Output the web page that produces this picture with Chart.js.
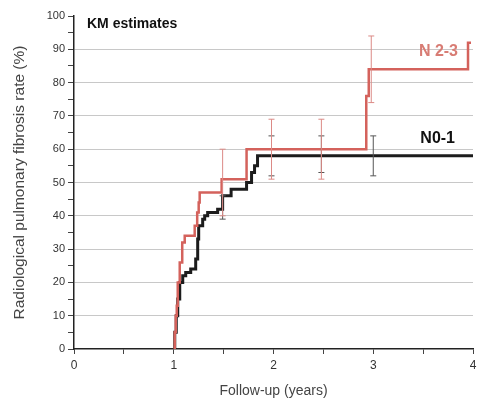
<!DOCTYPE html>
<html>
<head>
<meta charset="utf-8">
<script src="https://cdn.jsdelivr.net/npm/chart.js@4"></script>
<style>
  body { margin: 0; background: #fff; }
  canvas { display: block; }
</style>
</head>
<body>
<canvas id="km" width="478" height="409"></canvas>
<script>
// Kaplan-Meier steps: follow-up (years) and cumulative fibrosis rate (%)
const n23Years = [1.00, 1.01, 1.02, 1.03, 1.04, 1.06, 1.085, 1.11, 1.21, 1.235, 1.25, 1.26, 1.48, 1.73, 2.93, 2.955, 3.95, 3.98];
const n23Rate  = [0, 5, 10, 13, 20, 26, 32, 34, 37, 41, 44, 47, 51, 60, 76, 84, 92, 92];

const n01Years = [1.00, 1.01, 1.025, 1.04, 1.06, 1.09, 1.12, 1.17, 1.22, 1.24, 1.25, 1.29, 1.31, 1.34, 1.44, 1.49, 1.575, 1.73, 1.78, 1.81, 1.84, 4.0];
const n01Rate  = [0, 5, 10, 15, 20, 22, 23, 24, 27, 33, 37, 39, 40, 41, 42, 46, 48, 50, 53, 55, 58, 58];

// confidence interval bars
const n23CiYears = [1.49, 1.98, 2.48, 2.98];
const n23CiLow   = [40, 51, 51, 74];
const n23CiHigh  = [60, 69, 69, 94];

const n01CiYears = [1.49, 1.98, 2.48, 3.0];
const n01CiLow   = [39, 52, 53, 52];
const n01CiHigh  = [46, 64, 64, 64];

const RED = "#d4625c";
const BLACK = "#1c1c1c";
const FONT = "'Liberation Sans', Arial, sans-serif";

const toPoints = (xs, ys) => xs.map((x, i) => ({x: x, y: ys[i]}));

function ciBars(xs, lows, highs, color) {
  return xs.map((x, i) => ({
    data: [{x: x, y: lows[i]}, {x: x, y: highs[i]}],
    borderColor: color,
    borderWidth: 1,
    pointStyle: "line",
    pointRadius: 3,
    pointBorderColor: color,
    pointBorderWidth: 1,
    showLine: true
  }));
}

// free text inside the plot area
const annotations = {
  id: "annotations",
  afterDraw(chart) {
    const ctx = chart.ctx;
    const a = chart.chartArea;
    ctx.save();
    ctx.textBaseline = "middle";
    ctx.font = "bold 14px " + FONT;
    ctx.fillStyle = "#111";
    ctx.textAlign = "left";
    ctx.fillText("KM estimates", a.left + 13, a.top + 8);
    ctx.font = "bold 16px " + FONT;
    ctx.textAlign = "right";
    ctx.fillStyle = "#d87c74";
    ctx.fillText("N 2-3", a.right - 15, 52);
    ctx.fillStyle = "#111";
    ctx.fillText("N0-1", a.right - 18, 139);
    ctx.restore();
  }
};

new Chart(document.getElementById("km"), {
  type: "scatter",
  data: {
    datasets: [
      ...ciBars(n23CiYears, n23CiLow, n23CiHigh, "#dc8a86"),
      ...ciBars(n01CiYears, n01CiLow, n01CiHigh, "#555"),
      {
        label: "N 2-3",
        data: toPoints(n23Years, n23Rate),
        borderColor: RED,
        borderWidth: 2.5,
        pointRadius: 0,
        showLine: true,
        stepped: "before"
      },
      {
        label: "N0-1",
        data: toPoints(n01Years, n01Rate),
        borderColor: BLACK,
        borderWidth: 3,
        pointRadius: 0,
        showLine: true,
        stepped: "before"
      }
    ]
  },
  options: {
    responsive: false,
    animation: false,
    layout: { padding: { top: 16, right: 5, left: 0, bottom: 0 } },
    plugins: { legend: { display: false }, tooltip: { enabled: false } },
    scales: {
      x: {
        type: "linear",
        min: 0,
        max: 4,
        afterFit: s => { s.height = 60; s.paddingRight = 0; s.paddingLeft = 0; },
        border: { color: "#222", width: 1.5 },
        grid: { drawOnChartArea: false, tickLength: 5, tickColor: "#444" },
        ticks: {
          stepSize: 0.5,
          padding: 4,
          color: "#333",
          font: { family: FONT, size: 12 },
          callback: v => (v % 1 === 0 ? v : "")
        },
        title: {
          display: true,
          text: "Follow-up (years)",
          color: "#444",
          font: { family: FONT, size: 14 },
          padding: { top: 0, bottom: 9 }
        }
      },
      y: {
        min: 0,
        max: 100,
        afterFit: s => { s.width = 74; },
        border: { color: "#222", width: 1.5 },
        grid: {
          tickLength: 6,
          tickColor: "#444",
          color: c => (c.tick && c.tick.value % 10 === 0 && c.tick.value > 0 && c.tick.value < 100) ? "#c8c8c8" : "rgba(0,0,0,0)"
        },
        ticks: {
          stepSize: 5,
          padding: 3,
          color: "#333",
          font: { family: FONT, size: 11 },
          callback: v => (v % 10 === 0 ? v : "")
        },
        title: {
          display: true,
          text: "Radiological pulmonary fibrosis rate (%)",
          color: "#444",
          font: { family: FONT, size: 15.5 },
          padding: { top: 10, bottom: 0 }
        }
      }
    }
  },
  plugins: [annotations]
});
</script>
</body>
</html>
